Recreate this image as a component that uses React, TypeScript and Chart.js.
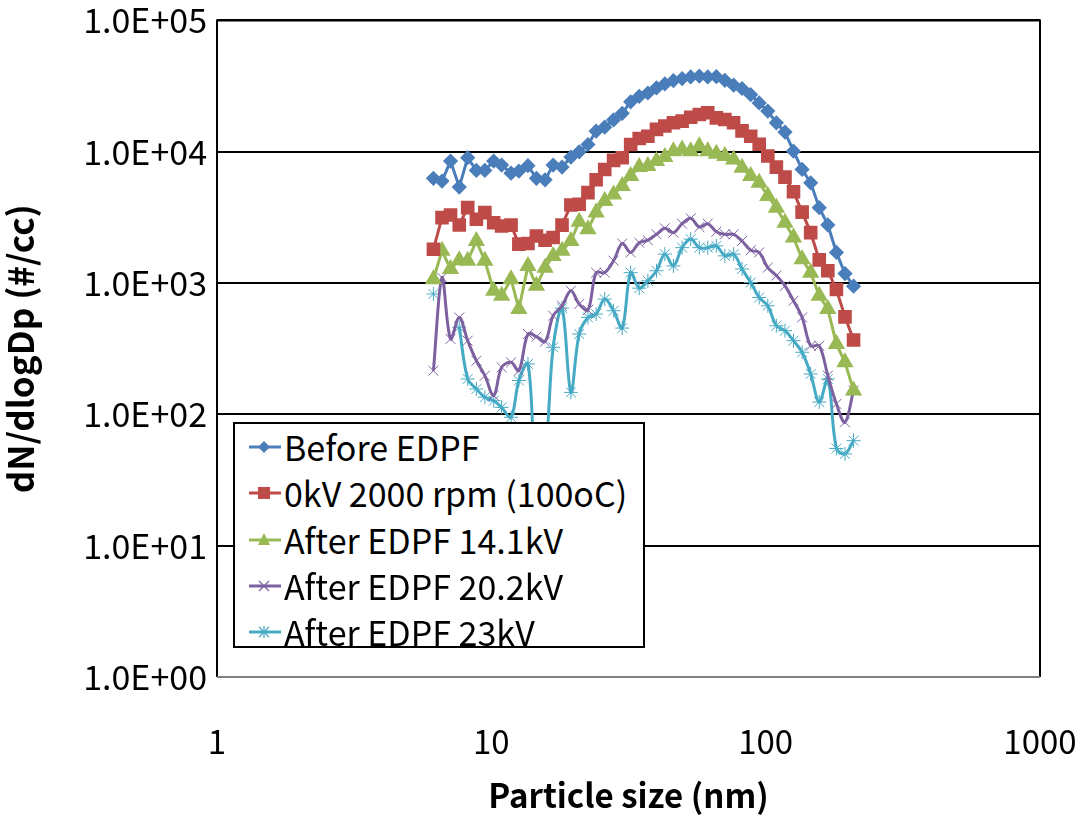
import React, { useEffect, useRef } from "react";
import { Chart, registerables } from "chart.js";

Chart.register(...registerables);

// Particle diameters (nm)
const sizes = [
  6.15, 6.61, 7.1, 7.64, 8.2, 8.82, 9.47, 10.2, 10.9, 11.8,
  12.6, 13.6, 14.6, 15.7, 16.8, 18.1, 19.5, 20.9, 22.5, 24.1,
  25.9, 27.9, 30.0, 32.2, 34.6, 37.2, 40.0, 42.9, 46.1, 49.6,
  53.3, 57.3, 61.5, 66.1, 71.0, 76.4, 82.0, 88.2, 94.7, 101.8,
  109.4, 117.6, 126.3, 135.8, 145.9, 156.8, 168.5, 181.1, 194.6, 209.1,
];

const beforeEdpf = [
  6270, 5980, 8490, 5380, 9000, 7210, 7210, 8490, 7910, 6870,
  7120, 7820, 6270, 6110, 7910, 7640, 9100, 9980, 11350, 14340,
  15380, 17470, 19630, 24000, 26400, 28000, 30600, 32800, 34800, 36100,
  37100, 37700, 37100, 37300, 35000, 32100, 30300, 27200, 23500, 20400,
  16600, 14100, 10100, 7330, 5800, 3750, 2770, 1710, 1180, 946,
];

const kv0 = [
  1810, 3150, 3300, 2770, 3750, 3060, 3440, 2880, 2720, 2760,
  1980, 2000, 2280, 2120, 2220, 2760, 3930, 3980, 4880, 6110,
  7330, 8590, 9000, 11350, 12600, 13100, 14800, 15700, 16600, 17100,
  18300, 19200, 19800, 18100, 17600, 16600, 14400, 13100, 11400, 9270,
  7640, 6410, 4960, 3470, 2420, 1500, 1240, 893, 553, 368,
];

const kv14 = [
  1070, 1760, 1280, 1490, 1480, 2090, 1480, 873, 800, 1070,
  634, 1350, 952, 1310, 1610, 1760, 2090, 2930, 2570, 3440,
  4220, 4730, 5480, 6530, 7640, 7780, 8490, 9100, 10100, 10400,
  10100, 11000, 10100, 9640, 9270, 8740, 7560, 6530, 5800, 4600,
  3750, 2880, 2220, 1520, 1200, 800, 634, 344, 249, 152,
];

const kv20 = [
  215, 1100, 375, 547, 364, 256, 197, 139, 228, 249,
  215, 409, 390, 358, 564, 671, 873, 692, 623, 1200,
  1200, 1480, 2000, 1710, 2030, 2120, 2350, 2610, 2420, 2830,
  3110, 2670, 2830, 2460, 2350, 2350, 2090, 1780, 1710, 1310,
  1140, 952, 733, 547, 333, 333, 197, 120, 87, 152,
];

const kv23 = [
  825, null, null, 460, 186, 156, 135, 127, 113, 95,
  181, 242, 35, 50, 324, 644, 147, 409, 547, 581,
  755, 615, 454, 1200, 914, 1040, 1240, 1660, 1350, 1860,
  2160, 1860, 1860, 1920, 1610, 1660, 1280, 1010, 776, 671,
  473, 434, 364, 297, 203, 124, 186, 55, 50, 63,
];

const seriesNames = [
  "Before EDPF",
  "0kV 2000 rpm (100oC)",
  "After EDPF 14.1kV",
  "After EDPF 20.2kV",
  "After EDPF 23kV",
];
const seriesColors = ["#4A7EBB", "#BE4B48", "#98B954", "#7D60A0", "#46AAC5"];

const xTickValues = [1, 10, 100, 1000];
const xTickLabels = ["1", "10", "100", "1000"];
const yTickValues = [1, 10, 100, 1000, 10000, 100000];
const yTickLabels = ["1.0E+00", "1.0E+01", "1.0E+02", "1.0E+03", "1.0E+04", "1.0E+05"];

const xTitle = "Particle size (nm)";
const yTitle = "dN/dlogDp (#/cc)";

const FONT = "'Noto Sans CJK KR', 'Noto Sans', sans-serif";

const plotBorder = {
  id: "plotBorder",
  beforeDatasetsDraw(chart: any) {
    const { ctx, chartArea } = chart;
    const { left, top, right, bottom } = chartArea;
    ctx.save();
    ctx.lineWidth = 2;
    ctx.strokeStyle = "#000";
    ctx.beginPath();
    ctx.moveTo(left, bottom);
    ctx.lineTo(left, top);
    ctx.lineTo(right, top);
    ctx.lineTo(right, bottom);
    ctx.stroke();
    ctx.strokeStyle = "#7f7f7f";
    ctx.beginPath();
    ctx.moveTo(left, bottom);
    ctx.lineTo(right, bottom);
    ctx.stroke();
    ctx.restore();
  },
};

function Swatch({ idx }: { idx: number }) {
  const c = seriesColors[idx];
  let marker: any = null;
  if (idx === 0) marker = <polygon points="16,3 22,9 16,15 10,9" fill={c} />;
  if (idx === 1) marker = <rect x={10} y={3} width={12} height={12} fill={c} />;
  if (idx === 2) marker = <polygon points="16,2 22,14 10,14" fill={c} />;
  if (idx === 3)
    marker = (
      <g stroke={c} strokeWidth={1.2}>
        <line x1={11} y1={4} x2={21} y2={14} />
        <line x1={21} y1={4} x2={11} y2={14} />
      </g>
    );
  if (idx === 4)
    marker = (
      <g stroke={c} strokeWidth={1.2}>
        <line x1={11} y1={4} x2={21} y2={14} />
        <line x1={21} y1={4} x2={11} y2={14} />
        <line x1={16} y1={3} x2={16} y2={15} />
      </g>
    );
  return (
    <svg width={34} height={18} style={{ display: "block" }}>
      <line x1={1} y1={9} x2={33} y2={9} stroke={c} strokeWidth={3} />
      {marker}
    </svg>
  );
}

export default function App() {
  const canvasRef = useRef<HTMLCanvasElement | null>(null);

  useEffect(() => {
    const canvas = canvasRef.current;
    if (!canvas) return;
    const mk = (arr: (number | null)[]) => arr.map((v, i) => ({ x: sizes[i], y: v }));
    const chart = new Chart(canvas, {
      type: "line",
      data: {
        datasets: [
          {
            label: seriesNames[0],
            data: mk(beforeEdpf) as any,
            borderColor: seriesColors[0],
            backgroundColor: seriesColors[0],
            borderWidth: 3,
            pointStyle: "rectRot",
            pointRadius: 5.5,
            tension: 0,
          },
          {
            label: seriesNames[1],
            data: mk(kv0) as any,
            borderColor: seriesColors[1],
            backgroundColor: seriesColors[1],
            borderWidth: 3,
            pointStyle: "rect",
            pointRadius: 7.5,
            tension: 0,
          },
          {
            label: seriesNames[2],
            data: mk(kv14) as any,
            borderColor: seriesColors[2],
            backgroundColor: seriesColors[2],
            borderWidth: 3,
            pointStyle: "triangle",
            pointRadius: 7,
            tension: 0,
          },
          {
            label: seriesNames[3],
            data: mk(kv20) as any,
            borderColor: seriesColors[3],
            backgroundColor: seriesColors[3],
            borderWidth: 3,
            pointStyle: "crossRot",
            pointRadius: 7,
            pointBorderWidth: 1,
            tension: 0.35,
            spanGaps: false,
          },
          {
            label: seriesNames[4],
            data: mk(kv23) as any,
            borderColor: seriesColors[4],
            backgroundColor: seriesColors[4],
            borderWidth: 3,
            pointStyle: "star",
            pointRadius: 7,
            pointBorderWidth: 1,
            tension: 0.35,
            spanGaps: false,
          },
        ],
      },
      options: {
        animation: false,
        responsive: false,
        layout: { padding: { left: 0, top: 19, right: 41, bottom: 0 } },
        plugins: { legend: { display: false }, tooltip: { enabled: false } },
        scales: {
          x: {
            type: "logarithmic",
            min: 1,
            max: 1000,
            afterBuildTicks: (s: any) => {
              s.ticks = xTickValues.map((v) => ({ value: v }));
            },
            afterFit: (s: any) => {
              s.height = 139;
            },
            ticks: {
              autoSkip: false,
              maxRotation: 0,
              padding: 0,
              color: "#000",
              font: { family: FONT, size: 33 },
              callback: (_v: any, i: number) => xTickLabels[i],
            },
            grid: {
              display: true,
              drawOnChartArea: false,
              drawTicks: true,
              tickLength: 45,
              tickColor: "rgba(0,0,0,0)",
            },
            border: { display: false },
            title: {
              display: true,
              text: xTitle,
              color: "#000",
              font: { family: FONT, size: 33, weight: "bold" },
              padding: { top: 0, bottom: 1 },
            },
          },
          y: {
            type: "logarithmic",
            min: 1,
            max: 100000,
            afterBuildTicks: (s: any) => {
              s.ticks = yTickValues.map((v) => ({ value: v }));
            },
            afterFit: (s: any) => {
              s.width = 217;
            },
            ticks: {
              autoSkip: false,
              padding: 0,
              color: "#000",
              font: { family: FONT, size: 34 },
              callback: (_v: any, i: number) => yTickLabels[i],
            },
            grid: {
              color: "#000",
              lineWidth: 2,
              drawTicks: true,
              tickLength: 10,
              tickColor: "rgba(0,0,0,0)",
            },
            border: { display: false },
            title: {
              display: true,
              text: yTitle,
              color: "#000",
              font: { family: FONT, size: 35, weight: "bold" },
              padding: { top: 0, bottom: 0 },
            },
          },
        },
      },
      plugins: [plotBorder],
    } as any);
    return () => chart.destroy();
  }, []);

  return (
    <div
      style={{
        position: "fixed",
        left: 0,
        top: 0,
        width: 1081,
        height: 816,
        background: "#fff",
      }}
    >
      <canvas ref={canvasRef} width={1081} height={816} style={{ display: "block" }} />
      <div
        style={{
          position: "absolute",
          left: 233,
          top: 422,
          width: 408,
          height: 222,
          border: "2px solid #000",
          background: "#fff",
          fontFamily: FONT,
          fontSize: 34,
          color: "#000",
          boxSizing: "content-box",
        }}
      >
        {seriesNames.map((name, i) => (
          <div
            key={name}
            style={{
              position: "absolute",
              left: 13,
              top: 3 + i * 46.3,
              height: 40,
              display: "flex",
              alignItems: "center",
              whiteSpace: "nowrap",
            }}
          >
            <Swatch idx={i} />
            <span style={{ marginLeft: 2, lineHeight: "40px" }}>{name}</span>
          </div>
        ))}
      </div>
    </div>
  );
}
